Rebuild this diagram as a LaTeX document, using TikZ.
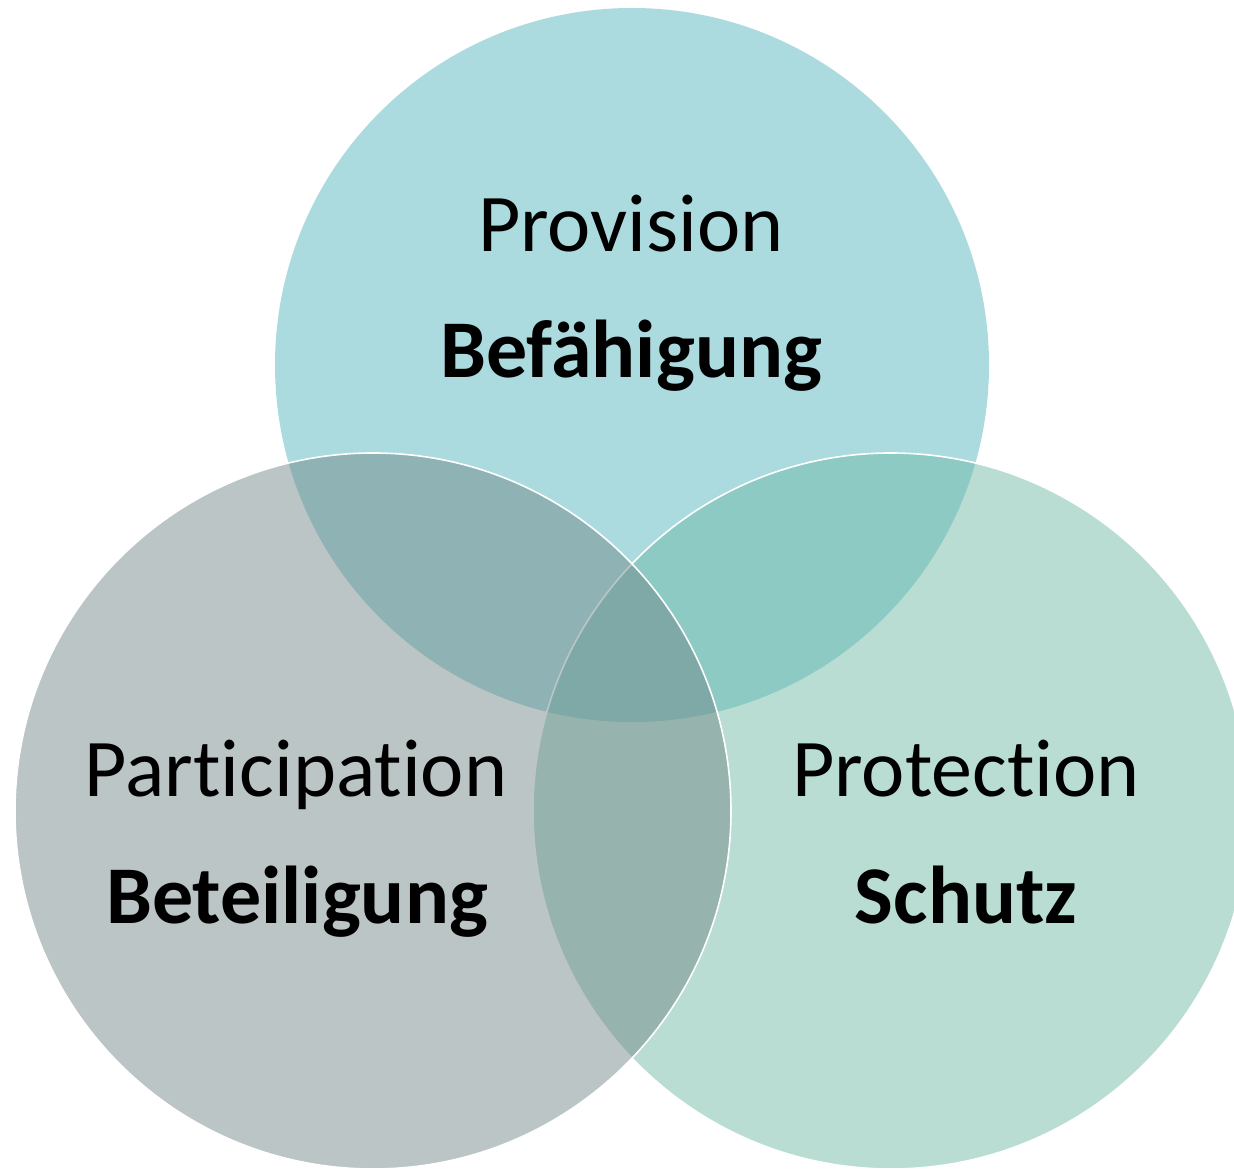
\documentclass[tikz,border=0pt]{standalone}
\usepackage{fontspec}
\setmainfont[Ligatures={NoCommon,NoRare,NoContextual}]{Carlito}
\definecolor{topc}{RGB}{172,219,223}
\definecolor{rightc}{RGB}{109,184,165}
\definecolor{leftc}{RGB}{112,132,134}
\begin{document}
\begin{tikzpicture}[x=1pt,y=1pt,
  circ/.style={draw=white,line width=1.6pt},
  lbl/.style={anchor=base,inner sep=0pt,font=\fontsize{82}{98}\selectfont},
  blbl/.style={lbl,font=\fontsize{82}{98}\selectfont\bfseries}]
\useasboundingbox (0,0) rectangle (1234,1168);
\clip (0,0) rectangle (1234,1168);
\fill[white] (0,0) rectangle (1234,1168);
\fill[topc] (632,803) circle[radius=357];
\path[circ,fill=rightc,fill opacity=0.48] (891,357) circle[radius=358];
\path[circ,fill=leftc,fill opacity=0.47] (373,357) circle[radius=358];
\node[lbl]  (prov) at (631,916) {Provision};
\node[blbl] (bef)  at (631,790) {Befähigung};
\node[lbl]  (part) at (296,371) {Participation};
\node[blbl] (bet)  at (297,245) {Beteiligung};
\node[lbl]  (prot) at (966,371) {Protection};
\node[blbl] (sch)  at (966,245) {Schutz};
\end{tikzpicture}
\end{document}
